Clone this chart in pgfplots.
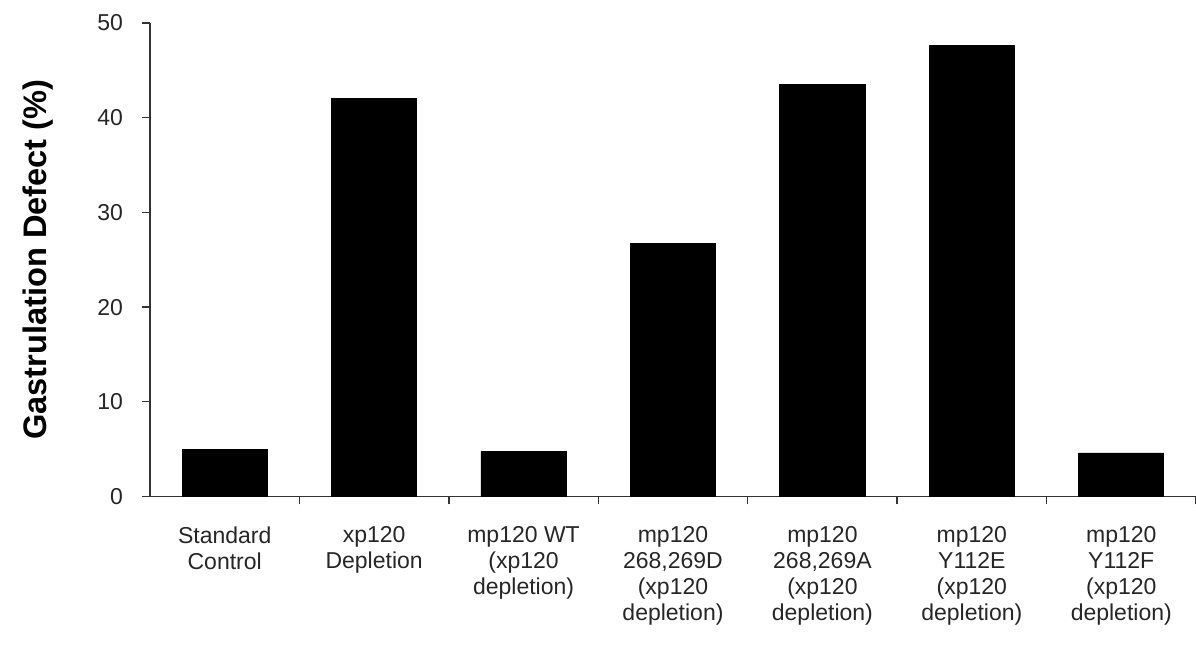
\documentclass[border=0pt]{standalone}
\usepackage{fontspec}
\setmainfont{Liberation Sans}
\usepackage{pgfplots}
\pgfplotsset{compat=1.18}
\begin{document}
\begin{tikzpicture}
\useasboundingbox (-75pt,-78.25pt) rectangle (523pt,248.25pt);
\begin{axis}[
  scale only axis,
  width=523pt, height=236.75pt,
  at={(0,0)}, anchor=south west,
  xmin=-0.5, xmax=6.5, ymin=0, ymax=50,
  axis lines=left,
  axis line style={-, line width=0.8pt, black!80},
  ytick={0,10,20,30,40,50},
  xtick={0,...,6},
  xticklabels={{Standard\\Control},{xp120\\Depletion},{mp120 WT\\(xp120\\depletion)},{mp120\\268,269D\\(xp120\\depletion)},{mp120\\268,269A\\(xp120\\depletion)},{mp120\\Y112E\\(xp120\\depletion)},{mp120\\Y112F\\(xp120\\depletion)}},
  minor xtick={0.5,1.5,...,6.5},
  major x tick style={draw=none},
  minor tick length=4pt,
  major tick length=4pt,
  tick align=outside,
  tick style={line width=0.7pt, black!80},
  xticklabel style={align=center, font=\fontsize{11.5}{13}\selectfont, yshift=-7.5pt, text=black!85},
  yticklabel style={font=\fontsize{11.5}{13}\selectfont, xshift=-6pt, text=black!85},
  /pgf/number format/assume math mode=true,
  ylabel={Gastrulation Defect (\%)},
  ylabel style={font=\bfseries\fontsize{16.3}{18}\selectfont, at={(axis description cs:-0.107,0.5)}, anchor=center},
  clip=false,
]
\addplot[ybar, bar width=0.57, fill=black, draw=black] coordinates {
 (0,5.0) (1,42.0) (2,4.8) (3,26.7) (4,43.5) (5,47.6) (6,4.6)
};
\end{axis}
\end{tikzpicture}
\end{document}
